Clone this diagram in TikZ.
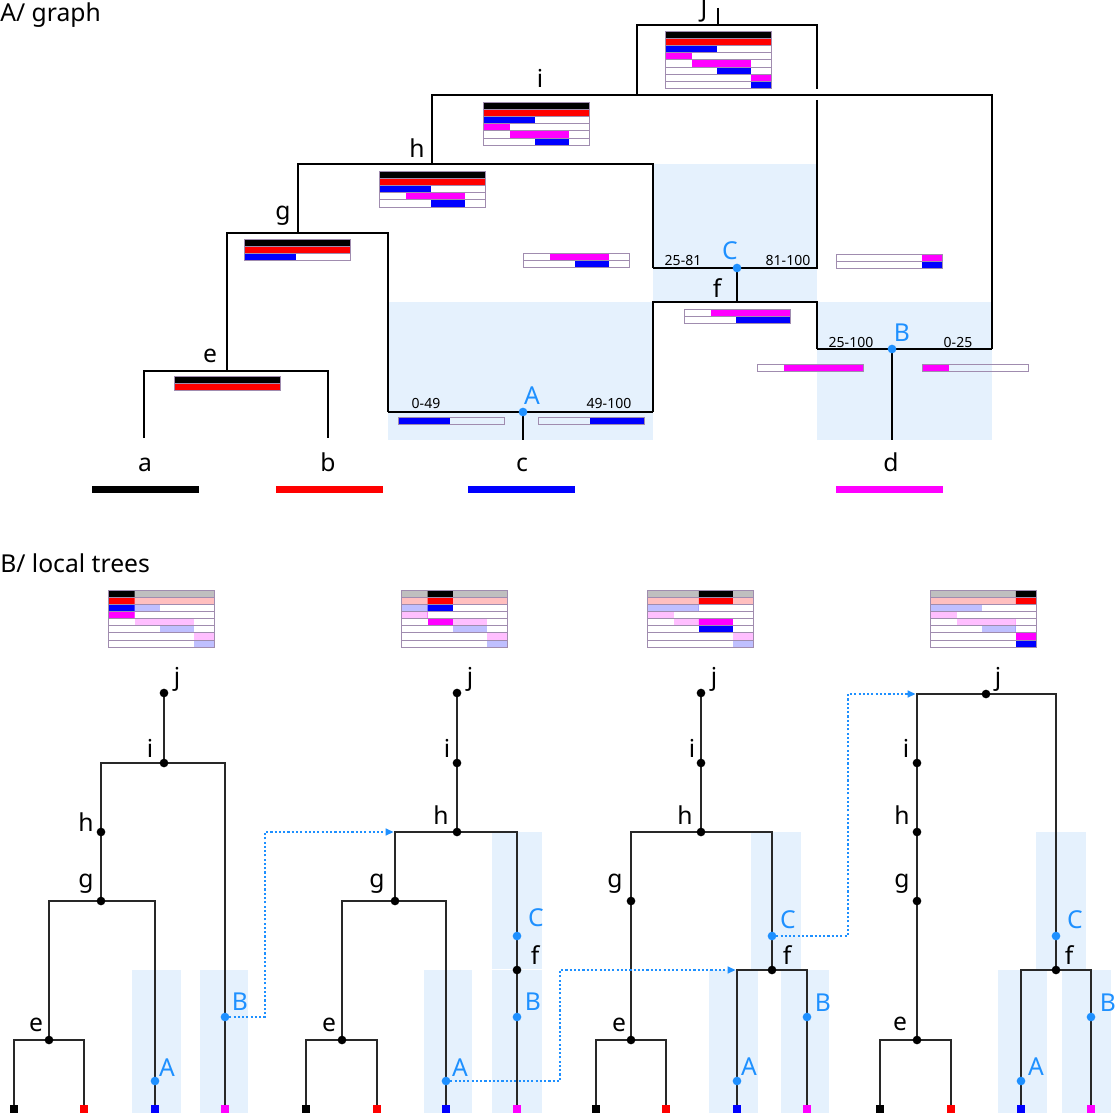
\documentclass[tikz,border=0pt]{standalone}
\usepackage{fontspec}
\setmainfont{Noto Sans}
\usetikzlibrary{arrows.meta,calc}
\definecolor{hl}{RGB}{229,241,253}
\definecolor{rb}{RGB}{30,144,255}
\definecolor{tabc}{RGB}{160,140,175}
\definecolor{tg}{RGB}{40,40,40}
\definecolor{mag}{RGB}{255,0,255}
\definecolor{rd}{RGB}{255,0,0}
\definecolor{bl}{RGB}{0,0,255}
\definecolor{bk}{RGB}{0,0,0}
\tikzset{
  aline/.style={line width=1.5pt,black},
  tline/.style={line width=1pt,tg},
  tabline/.style={line width=0.5pt,tabc},
  lbl/.style={inner sep=0pt,font=\fontsize{18.5}{20}\selectfont},
  rlbl/.style={lbl,text=rb},
  num/.style={inner sep=0pt,anchor=base,font=\fontsize{10.5}{12}\selectfont},
  dotk/.style={circle,fill=black,inner sep=0pt,minimum size=6.5pt},
  dotb/.style={circle,fill=rb,inner sep=0pt,minimum size=6.5pt},
  leafsq/.style={rectangle,inner sep=0pt,minimum size=6pt,anchor=north},
  hop/.style={rb,line width=1.6pt,dash pattern=on 1.6pt off 1.6pt,-{Triangle[length=6pt,width=5pt]},shorten >=1pt}
}
% table with rows a/b/colour
\newcommand{\ptab}[3]{%
  \foreach \pa/\pb/\pc [count=\ri] in {#3}{
    \fill[\pc] ({#1+1.06*\pa},{#2+7.2*(\ri-1)}) rectangle ({#1+1.06*\pb},{#2+7.2*\ri});
    \draw[tabline] (#1,{#2+7.2*(\ri-1)}) rectangle ({#1+106},{#2+7.2*\ri});
  }}
% local tree table: full J table faded, column a-b in full colour
\newcommand{\ltab}[3]{%
  \foreach \pa/\pb/\pc [count=\ri] in {0/100/bk,0/100/rd,0/49/bl,0/25/mag,25/81/mag,49/81/bl,81/100/mag,81/100/bl}{
    \fill[\pc!25] ({#1+1.06*\pa},{590+7.125*(\ri-1)}) rectangle ({#1+1.06*\pb},{590+7.125*\ri});
  }
  \begin{scope}
    \clip ({#1+1.06*#2},589) rectangle ({#1+1.06*#3},648);
    \foreach \pa/\pb/\pc [count=\ri] in {0/100/bk,0/100/rd,0/49/bl,0/25/mag,25/81/mag,49/81/bl,81/100/mag,81/100/bl}{
      \fill[\pc] ({#1+1.06*\pa},{590+7.125*(\ri-1)}) rectangle ({#1+1.06*\pb},{590+7.125*\ri});
    }
  \end{scope}
  \foreach \ri in {1,...,8}{
    \draw[tabline] (#1,{590+7.125*(\ri-1)}) rectangle ({#1+106},{590+7.125*\ri});
  }}
\begin{document}
\begin{tikzpicture}[x=0.75pt,y=-0.75pt]
\useasboundingbox (0,0) rectangle (1115,1113);
\fill[white] (0,0) rectangle (1115,1113);

% ================= Panel A =================
\node[lbl,anchor=base west] (titleA) at (0,22) {A/ graph};

% highlight areas
\fill[hl] (653,164) rectangle (817,302);
\fill[hl] (388,302) rectangle (653,440);
\fill[hl] (817,302) rectangle (992,440);

% coordinates
\coordinate (Jtop) at (718,8);
\coordinate (Jn) at (718,25);
\coordinate (Jr1) at (817,89);
\coordinate (Jr2) at (817,100);
\coordinate (in) at (637,95);
\coordinate (hn) at (432,164);
\coordinate (gn) at (298,233);
\coordinate (en) at (227,371);
\coordinate (Cn) at (737,268);
\coordinate (Cl) at (653,268);
\coordinate (Cr) at (817,268);
\coordinate (fn) at (737,302);
\coordinate (An) at (523,412);
\coordinate (Al) at (388,412);
\coordinate (Ar) at (653,412);
\coordinate (Bn) at (892,349);
\coordinate (Bl) at (817,349);
\coordinate (Br) at (992,349);
\coordinate (aL) at (144,438);
\coordinate (bL) at (328,438);
\coordinate (cL) at (523,440);
\coordinate (dL) at (892,440);

% edges
\draw[aline] (Jtop) -- (Jn);
\draw[aline] (in) |- (Jn) -| (Jr1);
\draw[aline] (Jr2) -- (Cr) -- (Cl);
\draw[aline] (Cl) |- (hn) -| (gn);
\draw[aline] (hn) |- (in) -| (Br);
\draw[aline] (en) |- (gn) -| (Al);
\draw[aline] (aL) |- (en) -| (bL);
\draw[aline] (Al) -- (Ar);
\draw[aline] (An) -- (cL);
\draw[aline] (Ar) |- (fn) -| (Bl);
\draw[aline] (Cn) -- (fn);
\draw[aline] (Bl) -- (Br);
\draw[aline] (Bn) -- (dL);

\node[dotb] (dC) at (Cn) {};
\node[dotb] (dA) at (An) {};
\node[dotb] (dB) at (Bn) {};

% tables
\ptab{665}{31}{0/100/bk,0/100/rd,0/49/bl,0/25/mag,25/81/mag,49/81/bl,81/100/mag,81/100/bl}
\ptab{483}{102}{0/100/bk,0/100/rd,0/49/bl,0/25/mag,25/81/mag,49/81/bl}
\ptab{379}{171}{0/100/bk,0/100/rd,0/49/bl,25/81/mag,49/81/bl}
\ptab{244}{239}{0/100/bk,0/100/rd,0/49/bl}
\ptab{174}{376}{0/100/bk,0/100/rd}
\ptab{523}{253}{25/81/mag,49/81/bl}
\ptab{836}{254}{81/100/mag,81/100/bl}
\ptab{684}{309}{25/100/mag,49/100/bl}
\ptab{757}{364}{25/100/mag}
\ptab{922}{364}{0/25/mag}
\ptab{398}{417}{0/49/bl}
\ptab{538}{417}{49/100/bl}

% labels
\node[lbl] (tJ) at (704,11) {J};
\node[lbl] (ti) at (540,78) {i};
\node[lbl] (th) at (417,148) {h};
\node[lbl] (tgg) at (283,216) {g};
\node[lbl] (te) at (210,356) {e};
\node[lbl] (tf) at (717,288) {f};
\node[rlbl] (tC) at (730,251) {C};
\node[rlbl] (tA) at (532,396) {A};
\node[rlbl] (tB) at (902,333) {B};
\node[num] (n1) at (683,265) {25-81};
\node[num] (n2) at (788,265) {81-100};
\node[num] (n3) at (851,347) {25-100};
\node[num] (n4) at (958,347) {0-25};
\node[num] (n5) at (426,408) {0-49};
\node[num] (n6) at (609,408) {49-100};
\node[lbl,anchor=base] (la) at (145,471) {a};
\node[lbl,anchor=base] (lb) at (328,471) {b};
\node[lbl,anchor=base] (lc) at (522,471) {c};
\node[lbl,anchor=base] (ld) at (891,471) {d};
\fill[bk] (92,486) rectangle (199,493);
\fill[rd] (276,486) rectangle (383,493);
\fill[bl] (468,486) rectangle (575,493);
\fill[mag] (836,486) rectangle (943,493);

% ================= Panel B =================
\node[lbl,anchor=base west] (titleB) at (0,572) {B/ local trees};

% highlights
\fill[hl] (132,970) rectangle (181,1113);
\fill[hl] (200,970) rectangle (248,1113);
\fill[hl] (424,970) rectangle (472,1113);
\fill[hl] (492,832) rectangle (542,969);
\fill[hl] (492,970) rectangle (542,1113);
\fill[hl] (751,832) rectangle (801,969);
\fill[hl] (709,970) rectangle (758,1113);
\fill[hl] (781,970) rectangle (829,1113);
\fill[hl] (1036,832) rectangle (1086,969);
\fill[hl] (998,970) rectangle (1047,1113);
\fill[hl] (1062,970) rectangle (1111,1113);

% tables
\ltab{108}{0}{25}
\ltab{401}{25}{49}
\ltab{647}{49}{81}
\ltab{930}{81}{100}

% ---- tree 1 ----
\coordinate (j1) at (164,693);
\coordinate (i1) at (164,763);
\coordinate (h1) at (101,832);
\coordinate (g1) at (101,901);
\coordinate (e1) at (49,1040);
\coordinate (a1) at (14,1105);
\coordinate (b1) at (84,1105);
\coordinate (c1) at (155,1105);
\coordinate (d1) at (225,1105);
\coordinate (A1) at (155,1081);
\coordinate (B1) at (225,1017);
\draw[tline] (j1) -- (i1);
\draw[tline] (g1) |- (i1) -| (d1);
\draw[tline] (e1) |- (g1) -| (c1);
\draw[tline] (a1) |- (e1) -| (b1);

% ---- tree 2 ----
\coordinate (j2) at (457,693);
\coordinate (i2) at (457,763);
\coordinate (h2) at (457,832);
\coordinate (g2) at (395,901);
\coordinate (e2) at (342,1040);
\coordinate (a2) at (306,1105);
\coordinate (b2) at (377,1105);
\coordinate (c2) at (446,1105);
\coordinate (d2) at (517,1105);
\coordinate (C2) at (517,936);
\coordinate (f2) at (517,970);
\coordinate (B2) at (517,1017);
\coordinate (A2) at (446,1081);
\coordinate (h2L) at (395,832);
\draw[tline] (j2) -- (h2);
\draw[tline] (g2) |- (h2) -| (d2);
\draw[tline] (e2) |- (g2) -| (c2);
\draw[tline] (a2) |- (e2) -| (b2);

% ---- tree 3 ----
\coordinate (j3) at (701,693);
\coordinate (i3) at (701,763);
\coordinate (h3) at (701,832);
\coordinate (g3) at (631,901);
\coordinate (e3) at (631,1040);
\coordinate (a3) at (596,1105);
\coordinate (b3) at (666,1105);
\coordinate (c3) at (737,1105);
\coordinate (d3) at (807,1105);
\coordinate (C3) at (772,936);
\coordinate (f3) at (772,970);
\coordinate (A3) at (737,1081);
\coordinate (B3) at (807,1017);
\coordinate (f3L) at (737,970);
\draw[tline] (j3) -- (h3);
\draw[tline] (e3) |- (h3) -| (f3);
\draw[tline] (a3) |- (e3) -| (b3);
\draw[tline] (c3) |- (f3) -| (d3);

% ---- tree 4 ----
\coordinate (j4) at (986,694);
\coordinate (i4) at (917,763);
\coordinate (h4) at (917,832);
\coordinate (g4) at (917,901);
\coordinate (e4) at (917,1040);
\coordinate (a4) at (880,1105);
\coordinate (b4) at (951,1105);
\coordinate (c4) at (1021,1105);
\coordinate (d4) at (1091,1105);
\coordinate (C4) at (1056,936);
\coordinate (f4) at (1056,970);
\coordinate (A4) at (1021,1081);
\coordinate (B4) at (1091,1017);
\coordinate (j4L) at (917,694);
\draw[tline] (e4) |- (j4) -| (f4);
\draw[tline] (a4) |- (e4) -| (b4);
\draw[tline] (c4) |- (f4) -| (d4);

% hops
\draw[hop] (B1) -- ++(40,0) |- (h2L);
\draw[hop] (A2) -- ++(114,0) |- (f3L);
\draw[hop] (C3) -- ++(76,0) |- (j4L);

% dots
\foreach \n in {j1,i1,h1,g1,e1,j2,i2,h2,g2,e2,f2,j3,i3,h3,g3,e3,f3,j4,i4,h4,g4,e4,f4}{\node[dotk] (dot\n) at (\n) {};}
\foreach \n in {A1,B1,A2,B2,C2,A3,B3,C3,A4,B4,C4}{\node[dotb] (dot\n) at (\n) {};}
% leaves
\foreach \t in {1,2,3,4}{
  \node[leafsq,fill=bk] (sqa\t) at (a\t) {};
  \node[leafsq,fill=rd] (sqb\t) at (b\t) {};
  \node[leafsq,fill=bl] (sqc\t) at (c\t) {};
  \node[leafsq,fill=mag] (sqd\t) at (d\t) {};
}

% labels tree 1
\node[lbl] (l1j) at (177,679) {j};
\node[lbl] (l1i) at (150,748) {i};
\node[lbl] (l1h) at (86,822) {h};
\node[lbl] (l1g) at (86,884) {g};
\node[lbl] (l1e) at (36,1025) {e};
\node[rlbl] (l1A) at (167,1068) {A};
\node[rlbl] (l1B) at (240,1002) {B};
% labels tree 2
\node[lbl] (l2j) at (470,679) {j};
\node[lbl] (l2i) at (447,748) {i};
\node[lbl] (l2h) at (441,815) {h};
\node[lbl] (l2g) at (377,884) {g};
\node[lbl] (l2e) at (329,1025) {e};
\node[rlbl] (l2C) at (536,918) {C};
\node[lbl] (l2f) at (535,955) {f};
\node[rlbl] (l2B) at (533,1002) {B};
\node[rlbl] (l2A) at (460,1068) {A};
% labels tree 3
\node[lbl] (l3j) at (714,679) {j};
\node[lbl] (l3i) at (692,748) {i};
\node[lbl] (l3h) at (685,815) {h};
\node[lbl] (l3g) at (615,884) {g};
\node[lbl] (l3e) at (619,1025) {e};
\node[rlbl] (l3C) at (788,920) {C};
\node[lbl] (l3f) at (787,955) {f};
\node[rlbl] (l3B) at (823,1003) {B};
\node[rlbl] (l3A) at (749,1067) {A};
% labels tree 4
\node[lbl] (l4j) at (998,679) {j};
\node[lbl] (l4i) at (906,748) {i};
\node[lbl] (l4h) at (902,815) {h};
\node[lbl] (l4g) at (902,884) {g};
\node[lbl] (l4e) at (900,1024) {e};
\node[rlbl] (l4C) at (1075,920) {C};
\node[lbl] (l4f) at (1069,955) {f};
\node[rlbl] (l4B) at (1108,1003) {B};
\node[rlbl] (l4A) at (1036,1067) {A};
\end{tikzpicture}
\end{document}
